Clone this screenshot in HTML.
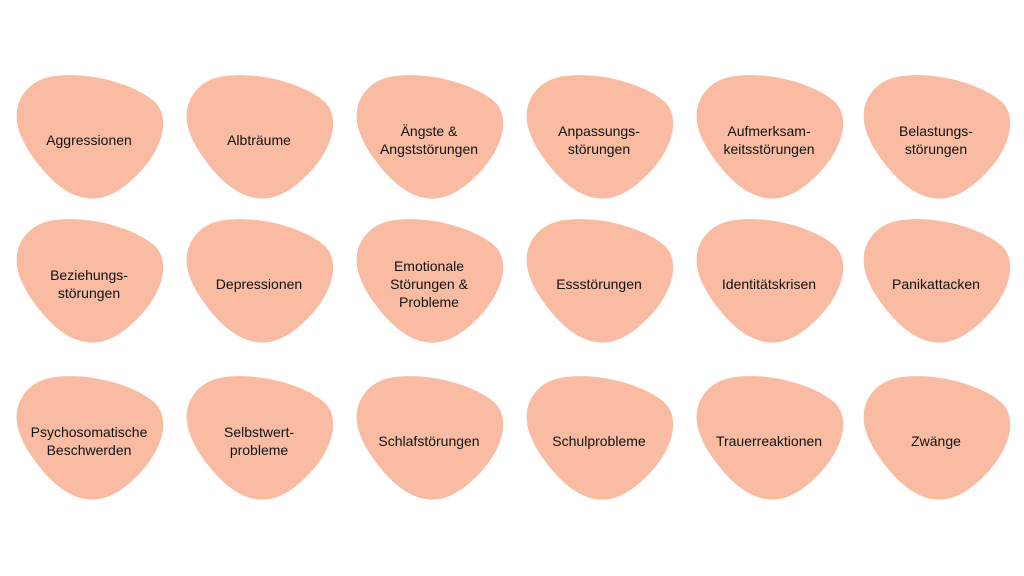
<!DOCTYPE html>
<html><head><meta charset="utf-8"><style>
body{margin:0;width:1024px;height:576px;background:#fff;overflow:hidden;position:relative;font-family:"Liberation Sans",sans-serif}
.b{position:absolute;width:150px;height:127px}
.b svg{position:absolute;left:0;top:0}
.t{position:absolute;left:0;top:0;width:148px;height:130px;display:flex;align-items:center;justify-content:center;text-align:center;font-size:14px;line-height:18px;color:#111}
</style></head><body>
<script>
const items=[["Aggressionen","Albträume","Ängste &amp;<br>Angststörungen","Anpassungs-<br>störungen","Aufmerksam-<br>keitsstörungen","Belastungs-<br>störungen"],
["Beziehungs-<br>störungen","Depressionen","Emotionale<br>Störungen &amp;<br>Probleme","Essstörungen","Identitätskrisen","Panikattacken"],
["Psychosomatische<br>Beschwerden","Selbstwert-<br>probleme","Schlafstörungen","Schulprobleme","Trauerreaktionen","Zwänge"]];
const xs=[15,185,355,525,695,862],ys=[75,219,376];
let h="";
items.forEach((r,i)=>r.forEach((t,j)=>{h+=`<div class="b" style="left:${xs[j]}px;top:${ys[i]}px"><svg width="150" height="128" viewBox="0 0 150 128"><path d="M40,1 C80,-4 125,12 141,28 C156,45 146,75 125,97 C105,118 88,126 70,123 C48,119 30,100 15,78 C2,58 -2,40 5,25 C12,10 25,3 40,1 Z" fill="#f9bca2"/></svg><div class="t">${t}</div></div>`}));
document.write(h);
</script>
</body></html>
